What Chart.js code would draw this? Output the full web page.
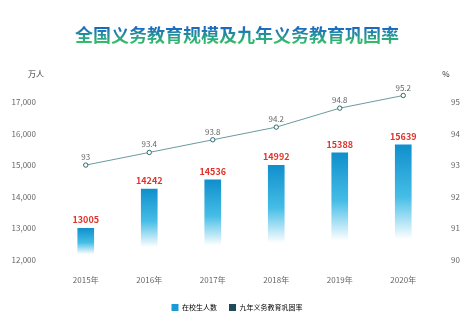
<!DOCTYPE html>
<html>
<head>
<meta charset="utf-8">
<script src="https://cdn.jsdelivr.net/npm/chart.js@4"></script>
<style>
  html, body { margin: 0; padding: 0; background: #fff; }
  #wrap { position: relative; width: 474px; height: 329px; }
  #title {
    position: absolute; left: 0; top: 22px; width: 474px; text-align: center;
    font: bold 18px "Noto Sans CJK SC", sans-serif; line-height: 24px;
  }
  #title span {
    background: linear-gradient(to bottom, #1560cc 20%, #34c066 85%);
    -webkit-background-clip: text; background-clip: text; color: transparent;
  }
  canvas { position: absolute; left: 0; top: 0; }
</style>
</head>
<body>
<div id="wrap">
  <div id="title"><span>全国义务教育规模及九年义务教育巩固率</span></div>
  <canvas id="chart" width="474" height="329"></canvas>
</div>
<script>
const years = ['2015年', '2016年', '2017年', '2018年', '2019年', '2020年'];
const students = [13005, 14242, 14536, 14992, 15388, 15639];
const rate = [93, 93.4, 93.8, 94.2, 94.8, 95.2];
const leftTicks = [12000, 13000, 14000, 15000, 16000, 17000];
const rightTicks = [90, 91, 92, 93, 94, 95];

const FONT = '"Noto Sans CJK SC", sans-serif';

// per-bar gradient: blue at the top fading to white near the base
function barFill(c) {
  const chart = c.chart;
  const area = chart.chartArea;
  if (!area || c.dataIndex === undefined) return '#1a9ad6';
  const y = chart.scales.y.getPixelForValue(students[c.dataIndex]);
  const g = chart.ctx.createLinearGradient(0, y, 0, area.bottom);
  g.addColorStop(0, '#0f8fcc');
  g.addColorStop(0.45, '#45bde6');
  g.addColorStop(0.82, '#ffffff');
  g.addColorStop(1, '#ffffff');
  return g;
}

const labelsPlugin = {
  id: 'labels',
  afterDatasetsDraw(chart) {
    const ctx = chart.ctx;
    ctx.save();
    ctx.textAlign = 'center';
    ctx.textBaseline = 'bottom';
    chart.getDatasetMeta(1).data.forEach((bar, i) => {
      ctx.fillStyle = '#e0332a';
      ctx.font = 'bold 9px ' + FONT;
      ctx.fillText(students[i], bar.x, bar.y - 4);
    });
    chart.getDatasetMeta(0).data.forEach((pt, i) => {
      ctx.fillStyle = '#666';
      ctx.font = '8px ' + FONT;
      ctx.fillText(rate[i], pt.x, pt.y - 4);
    });
    // axis units
    ctx.fillStyle = '#333';
    ctx.font = '8px ' + FONT;
    ctx.textBaseline = 'middle';
    ctx.textAlign = 'center';
    ctx.fillText('万人', 36, 74);
    ctx.fillText('%', 446, 74);
    ctx.restore();
  }
};

new Chart(document.getElementById('chart'), {
  data: {
    labels: years,
    datasets: [
      {
        type: 'line',
        label: '九年义务教育巩固率',
        data: rate,
        yAxisID: 'y1',
        borderColor: '#6a9a9e',
        borderWidth: 1,
        backgroundColor: '#1e4a5a',
        pointBackgroundColor: '#fff',
        pointBorderColor: '#2e6a72',
        pointBorderWidth: 1,
        pointRadius: 2.2,
        tension: 0,
        order: 0
      },
      {
        type: 'bar',
        label: '在校生人数',
        data: students,
        yAxisID: 'y',
        backgroundColor: barFill,
        barThickness: 16,
        order: 1
      }
    ]
  },
  plugins: [labelsPlugin],
  options: {
    responsive: false,
    animation: false,
    layout: { padding: { top: 86, bottom: 8, left: 0, right: 0 } },
    plugins: {
      legend: {
        position: 'bottom',
        labels: {
          boxWidth: 7, boxHeight: 7, padding: 12,
          color: '#444', font: { size: 7, family: FONT },
          generateLabels: chart => [
            { text: '在校生人数', fillStyle: '#1a9ad6', strokeStyle: '#1a9ad6', lineWidth: 0, datasetIndex: 1 },
            { text: '九年义务教育巩固率', fillStyle: '#1e4a5a', strokeStyle: '#1e4a5a', lineWidth: 0, datasetIndex: 0 }
          ]
        }
      },
      tooltip: { enabled: false }
    },
    scales: {
      x: {
        grid: { display: false },
        border: { display: false },
        ticks: { color: '#666', font: { size: 8, family: FONT }, padding: 7 },
        afterFit: s => { s.height = 32; }
      },
      y: {
        position: 'left',
        min: 12000, max: 17500,
        grid: { display: false },
        border: { display: false },
        afterBuildTicks: s => { s.ticks = leftTicks.map(v => ({ value: v })); },
        ticks: {
          color: '#666', font: { size: 8, family: FONT }, padding: 10,
          callback: v => v.toLocaleString('en-US')
        },
        afterFit: s => { s.width = 54; }
      },
      y1: {
        position: 'right',
        min: 90, max: 95.5,
        grid: { display: false },
        border: { display: false },
        afterBuildTicks: s => { s.ticks = rightTicks.map(v => ({ value: v })); },
        ticks: { color: '#666', font: { size: 8, family: FONT }, padding: 8 },
        afterFit: s => { s.width = 39; }
      }
    }
  }
});
</script>
</body>
</html>
